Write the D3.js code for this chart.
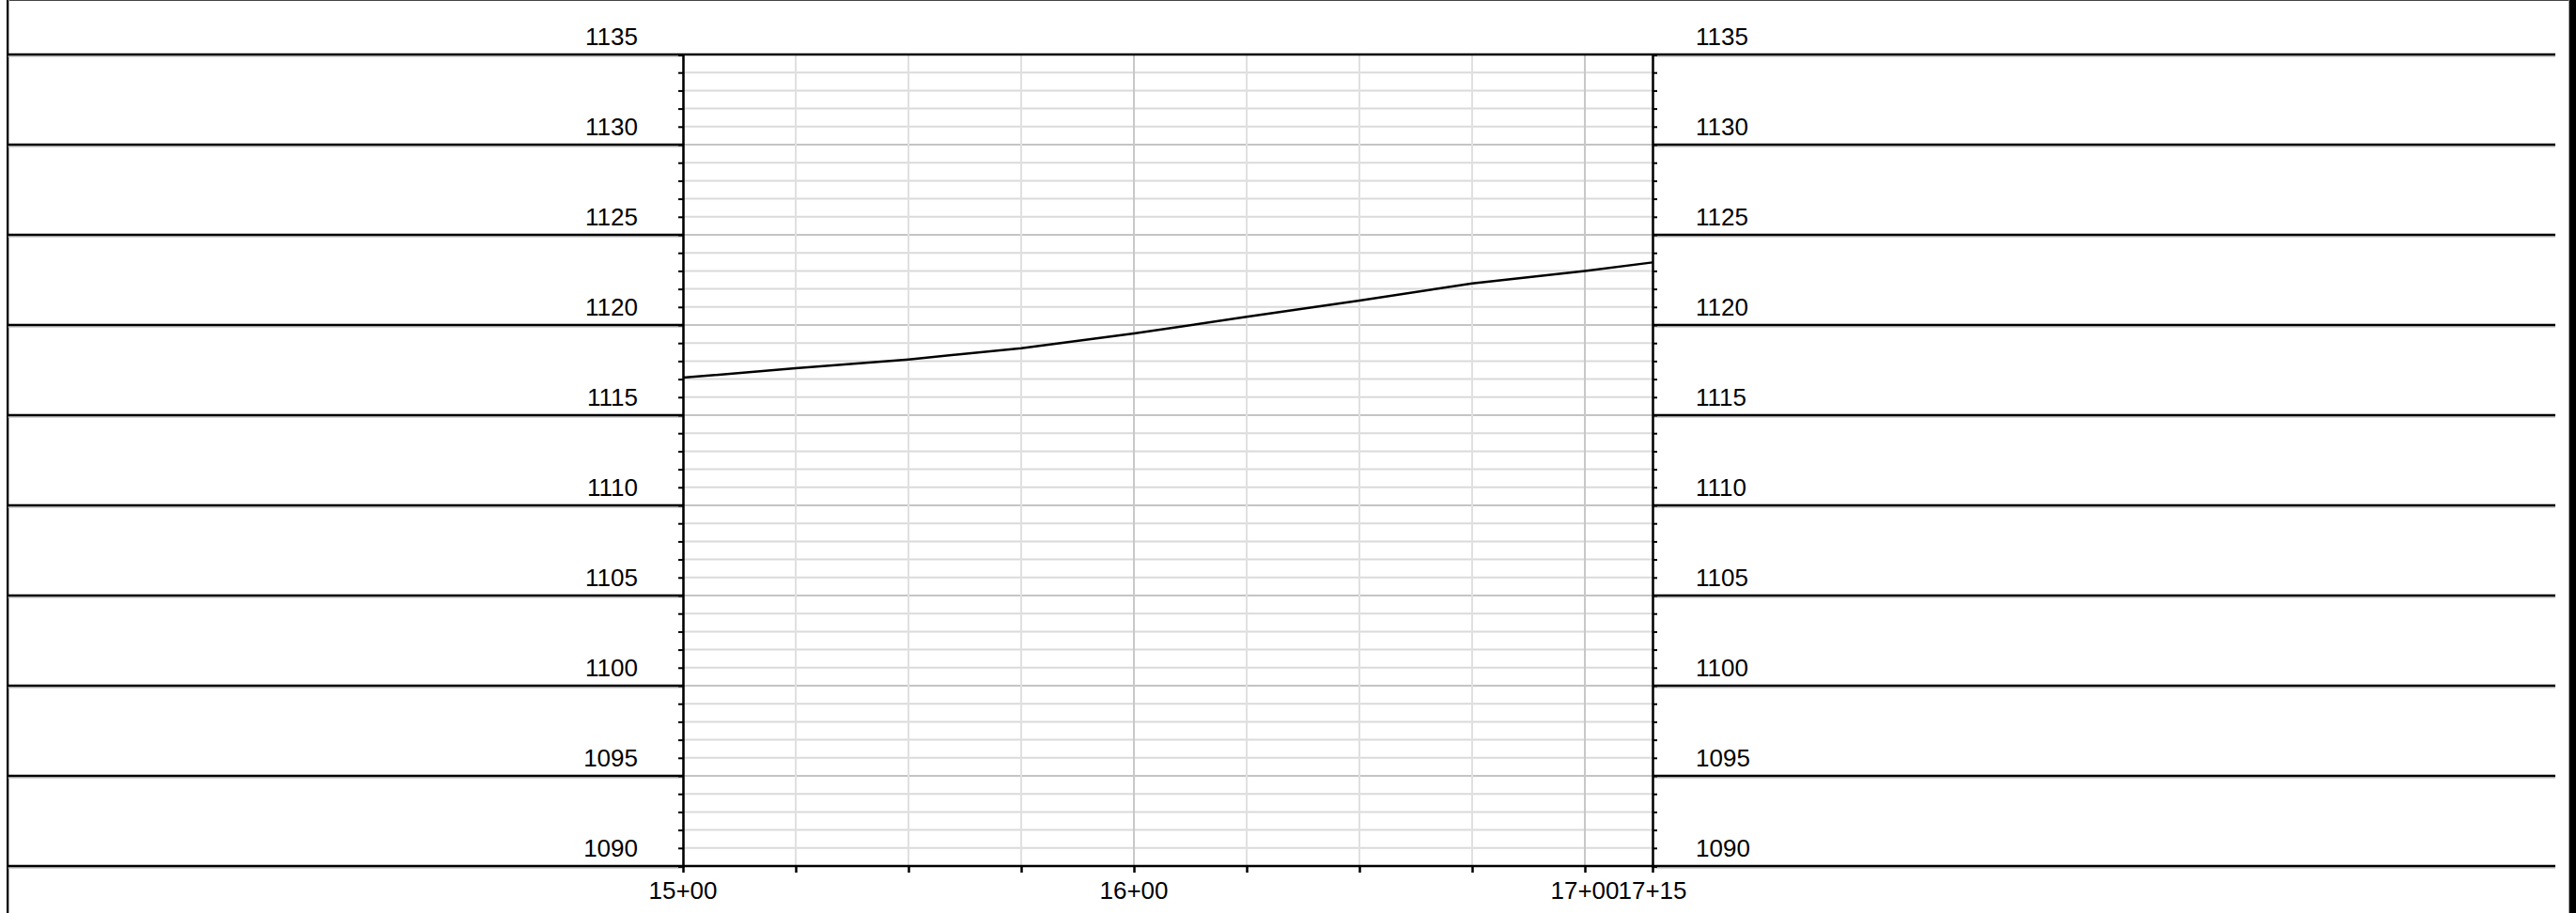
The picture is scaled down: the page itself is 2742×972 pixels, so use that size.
<!DOCTYPE html>
<html>
<head>
<meta charset="utf-8">
<script src="https://cdn.jsdelivr.net/npm/d3@7"></script>
<style>
  html, body { margin: 0; padding: 0; background: #fff; }
  svg { display: block; }
  text { font-family: "Liberation Sans", Arial, sans-serif; }
</style>
</head>
<body>
<script>
// ---- data ----
const stations   = [1500, 1525, 1550, 1575, 1600, 1625, 1650, 1675, 1700, 1715];
const elevations = [1117.08, 1117.60, 1118.09, 1118.71, 1119.53, 1120.45, 1121.35, 1122.31, 1123.00, 1123.47];
const xTickValues  = [1500, 1525, 1550, 1575, 1600, 1625, 1650, 1675, 1700, 1715];
const xLabelValues = [1500, 1600, 1700, 1715];
const yLabelValues = [1090, 1095, 1100, 1105, 1110, 1115, 1120, 1125, 1130, 1135];
const yDomain = [1090, 1135];
const xDomain = [1500, 1715];

// ---- layout ----
const W = 2742, H = 972;
const plotL = 727, plotR = 1759, plotT = 58, plotB = 922;
const outerL = 8, outerR = 2720;
const fontSize = 26;

const svg = d3.select("body").append("svg").attr("width", W).attr("height", H);

const x = d3.scaleLinear().domain(xDomain).range([plotL, plotR]);
const y = d3.scaleLinear().domain(yDomain).range([plotB, plotT]);

const fmtSta = s => Math.floor(s / 100) + "+" + String(s % 100).padStart(2, "0");

// outer frame
svg.append("line").attr("x1", outerL).attr("x2", W).attr("y1", 0.5).attr("y2", 0.5)
  .attr("stroke", "#444").attr("stroke-width", 1);
svg.append("line").attr("x1", outerL).attr("x2", outerL).attr("y1", 0).attr("y2", H)
  .attr("stroke", "#000").attr("stroke-width", 2);
svg.append("line").attr("x1", outerL + 1.5).attr("x2", outerL + 1.5).attr("y1", 0).attr("y2", H)
  .attr("stroke", "#aaa").attr("stroke-width", 1);
svg.append("rect").attr("x", 2735).attr("y", 0).attr("width", 7).attr("height", H).attr("fill", "#000");
svg.append("rect").attr("x", 2734).attr("y", 0).attr("width", 1).attr("height", H).attr("fill", "#999");

// gridlines - horizontal (every 1 unit)
const yMinor = d3.range(yDomain[0], yDomain[1] + 1, 1);
svg.append("g").selectAll("line").data(yMinor).join("line")
  .attr("x1", plotL).attr("x2", plotR)
  .attr("y1", d => y(d)).attr("y2", d => y(d))
  .attr("stroke", d => d % 5 === 0 ? "#c4c4c4" : "#dadada")
  .attr("stroke-width", 2);

// gridlines - vertical
svg.append("g").selectAll("line").data(xTickValues.filter(d => d % 25 === 0)).join("line")
  .attr("x1", d => x(d)).attr("x2", d => x(d))
  .attr("y1", plotT).attr("y2", plotB)
  .attr("stroke", d => d % 100 === 0 ? "#c8c8c8" : "#e0e0e0")
  .attr("stroke-width", 2);

// thick horizontal band lines outside plot (every 5)
const bands = svg.append("g");
yLabelValues.forEach(v => {
  const yy = y(v);
  [[outerL, plotL], [plotR, outerR]].forEach(([a, b]) => {
    bands.append("line").attr("x1", a).attr("x2", b).attr("y1", yy + 2).attr("y2", yy + 2)
      .attr("stroke", "#aaa").attr("stroke-width", 1);
    bands.append("line").attr("x1", a).attr("x2", b).attr("y1", yy).attr("y2", yy)
      .attr("stroke", "#000").attr("stroke-width", 2.5);
  });
});
// top and bottom lines across plot
[yDomain[1], yDomain[0]].forEach(v => {
  svg.append("line").attr("x1", plotL).attr("x2", plotR).attr("y1", y(v)).attr("y2", y(v))
    .attr("stroke", "#000").attr("stroke-width", 2.5);
});

// left and right axes with minor ticks
const leftAxis = d3.axisLeft(y).tickValues(yMinor).tickSize(5).tickFormat("");
const rightAxis = d3.axisRight(y).tickValues(yMinor).tickSize(5).tickFormat("");
const gl = svg.append("g").attr("transform", `translate(${plotL},0)`).call(leftAxis);
const gr = svg.append("g").attr("transform", `translate(${plotR},0)`).call(rightAxis);
[gl, gr].forEach(g => {
  g.select(".domain").attr("stroke", "#000").attr("stroke-width", 2.5);
  g.selectAll(".tick line").attr("stroke", "#000").attr("stroke-width", 2);
});

// bottom axis
const bottomAxis = d3.axisBottom(x).tickValues(xTickValues).tickSize(7).tickFormat("");
const gb = svg.append("g").attr("transform", `translate(0,${plotB})`).call(bottomAxis);
gb.select(".domain").remove();
gb.selectAll(".tick line").attr("stroke", "#000").attr("stroke-width", 2.5);

// x labels
svg.append("g").selectAll("text").data(xLabelValues).join("text")
  .attr("x", d => x(d)).attr("y", 957)
  .attr("text-anchor", "middle").attr("font-size", fontSize).attr("fill", "#000")
  .text(fmtSta);

// y labels left and right
svg.append("g").selectAll("text").data(yLabelValues).join("text")
  .attr("x", plotL - 48).attr("y", d => y(d) - 10)
  .attr("text-anchor", "end").attr("font-size", fontSize).attr("fill", "#000")
  .text(d => d);
svg.append("g").selectAll("text").data(yLabelValues).join("text")
  .attr("x", plotR + 46).attr("y", d => y(d) - 10)
  .attr("text-anchor", "start").attr("font-size", fontSize).attr("fill", "#000")
  .text(d => d);

// profile line
const pts = stations.map((s, i) => [s, elevations[i]]);
svg.append("path").datum(pts)
  .attr("fill", "none").attr("stroke", "#000").attr("stroke-width", 2.5)
  .attr("stroke-linejoin", "round")
  .attr("d", d3.line().x(d => x(d[0])).y(d => y(d[1])));
</script>
</body>
</html>
